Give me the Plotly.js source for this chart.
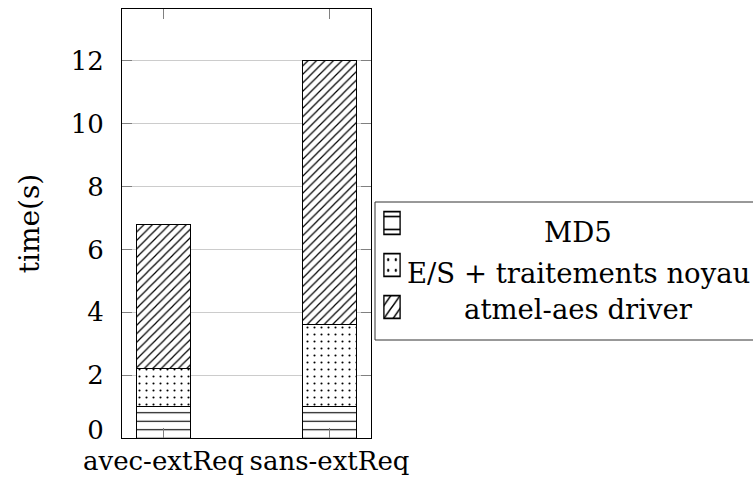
<!DOCTYPE html>
<html>
<head>
<meta charset="utf-8">
<script src="https://cdn.plot.ly/plotly-3.0.1.min.js"></script>
<style>
  html, body { margin: 0; padding: 0; background: #ffffff; }
  #chart { width: 753px; height: 481px; }
</style>
</head>
<body>
<div id="chart"></div>
<script>
// Run configurations on the x axis
const categories = ['avec-extReq', 'sans-extReq'];

// Time spent in each part of the run, in seconds (stacked)
const md5Times = [1.0, 1.0];
const ioKernelTimes = [1.2, 2.6];
const aesDriverTimes = [4.6, 8.4];

const seriesNames = ['MD5', 'E/S + traitements noyau', 'atmel-aes driver'];
const yTickValues = [0, 2, 4, 6, 8, 10, 12];
const yTickLabels = ['0', '2', '4', '6', '8', '10', '12'];

// Plot-area geometry in pixels, used to place the legend box and its labels
const W = 753, H = 481;
const M = { l: 122, r: 382, t: 9, b: 43 };
const plotW = W - M.l - M.r;
const plotH = H - M.t - M.b;
const px = x => (x - M.l) / plotW;
const py = y => (H - M.b - y) / plotH;

const FONT = 'DejaVu Serif';

function barTrace(name, values, shape, size, solidity) {
  return {
    type: 'bar',
    name: name,
    x: categories,
    y: values,
    marker: {
      color: '#ffffff',
      line: { color: '#000000', width: 1 },
      pattern: { shape: shape, fgcolor: '#000000', bgcolor: '#ffffff', size: size, solidity: solidity }
    },
    hoverinfo: 'x+y+name'
  };
}

const traces = [
  barTrace(seriesNames[0], md5Times, '-', 8.5, 0.13),
  barTrace(seriesNames[1], ioKernelTimes, '.', 7, 0.07),
  barTrace(seriesNames[2], aesDriverTimes, '/', 6, 0.2)
];

const legendRows = [
  { text: seriesNames[0], y: 232 },
  { text: seriesNames[1], y: 273 },
  { text: seriesNames[2], y: 309 }
];

const layout = {
  width: W,
  height: H,
  margin: { l: M.l, r: M.r, t: M.t, b: M.b, autoexpand: false },
  paper_bgcolor: '#ffffff',
  plot_bgcolor: '#ffffff',
  barmode: 'stack',
  bargap: 0.68,
  font: { family: FONT, size: 26, color: '#000000' },
  xaxis: {
    type: 'category',
    range: [-0.25, 1.25],
    showline: true, linecolor: '#000000', linewidth: 1, mirror: 'ticks',
    ticks: 'inside', ticklen: 10, tickcolor: '#808080', tickwidth: 1,
    showgrid: false, zeroline: false,
    tickfont: { family: FONT, size: 26, color: '#000000' }
  },
  yaxis: {
    range: [0, 13.65],
    tickvals: yTickValues,
    ticktext: yTickLabels,
    showline: true, linecolor: '#000000', linewidth: 1, mirror: 'ticks',
    ticks: 'inside', ticklen: 10, tickcolor: '#808080', tickwidth: 1,
    ticklabelstandoff: 12,
    showgrid: true, gridcolor: '#cccccc', gridwidth: 1,
    zeroline: false,
    tickfont: { family: FONT, size: 26, color: '#000000' },
    title: { text: 'time(s)', font: { family: FONT, size: 28, color: '#000000' }, standoff: 22 }
  },
  showlegend: true,
  legend: {
    x: px(372), xanchor: 'left',
    y: py(197), yanchor: 'top',
    bgcolor: 'rgba(0,0,0,0)',
    borderwidth: 0,
    traceorder: 'normal',
    font: { family: FONT, size: 30, color: '#000000' }
  },
  shapes: [{
    type: 'rect', xref: 'paper', yref: 'paper',
    x0: px(375), x1: px(790), y0: py(202), y1: py(340),
    line: { color: '#333333', width: 1 }, fillcolor: 'rgba(0,0,0,0)'
  }],
  annotations: legendRows.map(r => ({
    xref: 'paper', yref: 'paper',
    x: px(578), y: py(r.y),
    xanchor: 'center', yanchor: 'middle',
    text: r.text, showarrow: false,
    font: { family: FONT, size: 27.5, color: '#000000' }
  }))
};

Plotly.newPlot('chart', traces, layout, { displayModeBar: false, staticPlot: true }).then(gd => {
  // Legend entries keep their swatches; the centred labels are the annotations above.
  gd.querySelectorAll('.legend .legendtext').forEach(t => t.remove());
  // Enlarge the swatches to the size of the boxed legend images.
  gd.querySelectorAll('.legend .legendpoints path').forEach(p => {
    const t = p.getAttribute('transform') || '';
    p.setAttribute('transform', t + ' scale(1.35,1.9)');
  });
  // Lift the "0" label clear of the category labels below it.
  gd.querySelectorAll('.ytick text').forEach(t => {
    if (t.textContent === '0') {
      const tr = t.getAttribute('transform') || '';
      t.setAttribute('transform', tr + ' translate(0,-8)');
    }
  });
});
</script>
</body>
</html>
